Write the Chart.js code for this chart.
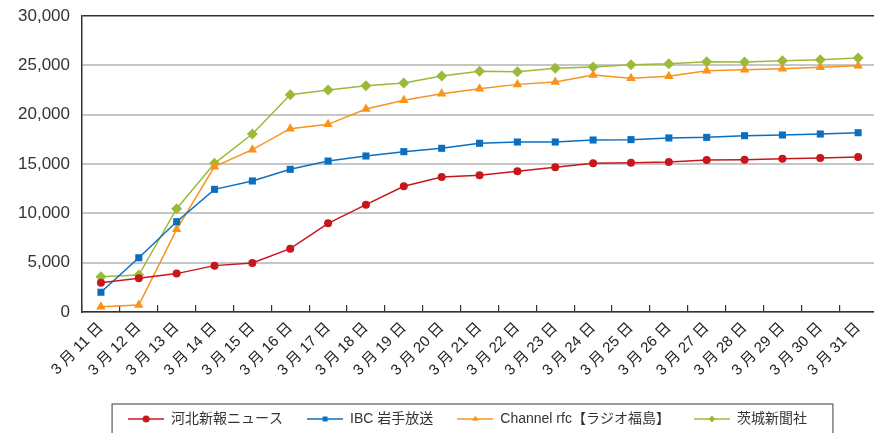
<!DOCTYPE html>
<html>
<head>
<meta charset="utf-8">
<script src="https://cdn.jsdelivr.net/npm/chart.js@4"></script>
<style>
  html, body { margin: 0; padding: 0; background: #fff; overflow: hidden; }
  #wrap { width: 885px; height: 433px; }
</style>
</head>
<body>
<div id="wrap"><canvas id="c"></canvas></div>
<script>
// Daily cumulative counts, 11–31 March
const days = ['3 月 11 日','3 月 12 日','3 月 13 日','3 月 14 日','3 月 15 日','3 月 16 日','3 月 17 日',
  '3 月 18 日','3 月 19 日','3 月 20 日','3 月 21 日','3 月 22 日','3 月 23 日','3 月 24 日',
  '3 月 25 日','3 月 26 日','3 月 27 日','3 月 28 日','3 月 29 日','3 月 30 日','3 月 31 日'];

const kahoku  = [2970, 3420, 3890, 4700, 4970, 6420, 8990, 10880, 12740, 13680, 13850,
                 14260, 14670, 15070, 15130, 15200, 15400, 15440, 15540, 15610, 15710];
const ibc     = [2000, 5500, 9150, 12430, 13280, 14460, 15300, 15810, 16250, 16590, 17100,
                 17230, 17230, 17430, 17470, 17640, 17700, 17870, 17940, 18040, 18170];
const rfc     = [540, 710, 8380, 14730, 16450, 18580, 19020, 20570, 21450, 22130, 22630,
                 23070, 23310, 24020, 23690, 23890, 24460, 24560, 24660, 24800, 24960];
const ibaraki = [3580, 3750, 10470, 15070, 18040, 22030, 22500, 22940, 23210, 23920, 24390,
                 24360, 24700, 24830, 25070, 25170, 25370, 25340, 25470, 25570, 25740];

const seriesNames = ['河北新報ニュース', 'IBC 岩手放送', 'Channel rfc【ラジオ福島】', '茨城新聞社'];
const seriesColors = ['#c8161d', '#0b6fc1', '#f7941e', '#9bbb38'];
const seriesMarkers = ['circle', 'rect', 'triangle', 'rectRot'];
const markerRadius = [4, 5, 5.5, 5.5];

const yMin = 0, yMax = 30000, yStep = 5000;

const FONT = "'Liberation Sans', 'Noto Sans CJK JP', sans-serif";

// Small "line + marker" swatch used as the legend symbol
function swatch(color, style) {
  const cv = document.createElement('canvas');
  cv.width = 36; cv.height = 12;
  const g = cv.getContext('2d');
  g.strokeStyle = color; g.lineWidth = 1.5;
  g.beginPath(); g.moveTo(0, 6); g.lineTo(36, 6); g.stroke();
  g.fillStyle = color; g.strokeStyle = color;
  Chart.helpers.drawPoint(g, { pointStyle: style, radius: 3.5, rotation: 0, borderWidth: 0 }, 18, 6);
  return cv;
}

const datasets = [kahoku, ibc, rfc, ibaraki].map((vals, i) => ({
  label: seriesNames[i],
  data: vals,
  borderColor: seriesColors[i],
  backgroundColor: seriesColors[i],
  borderWidth: 1.5,
  pointStyle: seriesMarkers[i],
  pointRadius: markerRadius[i],
  pointBackgroundColor: seriesColors[i],
  pointBorderColor: seriesColors[i],
  pointBorderWidth: 0,
  tension: 0,
  fill: false
}));
const legendSymbols = datasets.map((d, i) => swatch(seriesColors[i], seriesMarkers[i]));

// Nudges the legend row and frames it
const legendFrame = {
  id: 'legendFrame',
  afterLayout(chart) {
    const lg = chart.legend;
    lg.left += 25; lg.right += 25;
    lg.top += 3; lg.bottom += 3;
  },
  afterDraw(chart) {
    const lg = chart.legend;
    const hb = lg.legendHitBoxes;
    if (!hb || !hb.length) return;
    const first = hb[0], last = hb[hb.length - 1];
    const x0 = first.left - 16, x1 = last.left + last.width + 26;
    const y0 = first.top + first.height / 2 - 15;
    const ctx = chart.ctx;
    ctx.save();
    ctx.strokeStyle = '#5a5a5a';
    ctx.lineWidth = 1.2;
    ctx.strokeRect(x0, y0, x1 - x0, chart.height + 10 - y0);
    ctx.restore();
  }
};

new Chart(document.getElementById('c'), {
  type: 'line',
  data: { labels: days, datasets },
  plugins: [legendFrame],
  options: {
    responsive: true,
    maintainAspectRatio: false,
    animation: false,
    layout: { padding: { top: 16, right: 0, bottom: 0, left: 0 } },
    plugins: {
      tooltip: { enabled: false },
      legend: {
        position: 'bottom',
        labels: {
          usePointStyle: true,
          pointStyleWidth: 36,
          boxHeight: 12,
          padding: 24,
          color: '#333',
          font: { family: FONT, size: 14 },
          generateLabels(chart) {
            return Chart.defaults.plugins.legend.labels.generateLabels(chart).map((l, i) => {
              l.pointStyle = legendSymbols[i];
              return l;
            });
          }
        }
      }
    },
    scales: {
      x: {
        offset: true,
        afterFit(scale) { scale.height = 73; },
        grid: {
          offset: true,
          drawOnChartArea: false,
          drawTicks: true,
          tickLength: -7,
          color: '#333',
          lineWidth: 1.2
        },
        border: { color: '#333', width: 1.5 },
        ticks: {
          minRotation: 45,
          maxRotation: 45,
          autoSkip: false,
          padding: 14,
          color: '#222',
          font: { family: FONT, size: 15 }
        }
      },
      y: {
        min: yMin,
        max: yMax,
        afterFit(scale) {
          scale.width = 82;
          scale.paddingTop = 0;
          scale.paddingBottom = 0;
        },
        grid: {
          drawTicks: false,
          color: ctx => ctx.tick && ctx.tick.value === yMax ? '#333' : '#c6c6c6',
          lineWidth: ctx => ctx.tick && ctx.tick.value === yMax ? 1.5 : 2
        },
        border: { color: '#333', width: 1.5 },
        ticks: {
          stepSize: yStep,
          padding: 12,
          color: '#333',
          font: { family: FONT, size: 17 },
          callback: v => v.toLocaleString('en-US')
        }
      }
    }
  }
});
</script>
</body>
</html>
